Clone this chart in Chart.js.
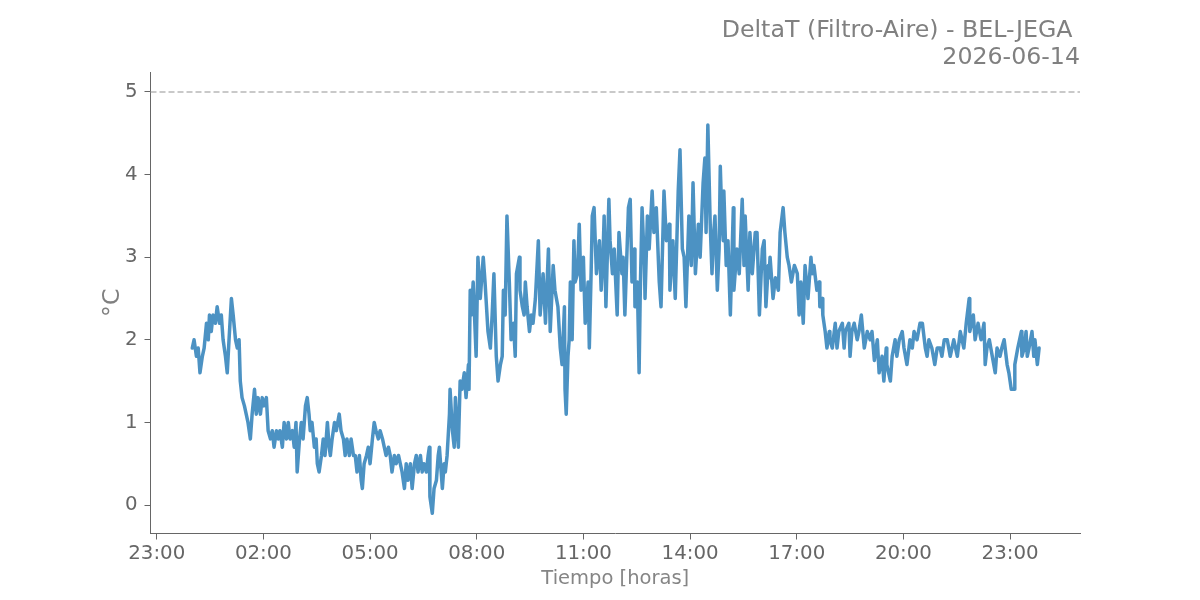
<!DOCTYPE html>
<html>
<head>
<meta charset="utf-8">
<script src="https://cdn.jsdelivr.net/npm/chart.js@4.4.1/dist/chart.umd.min.js"></script>
<style>
    html, body { margin: 0; padding: 0; background: #ffffff; }
    canvas { display: block; }
</style>
</head>
<body>
<canvas id="chart" width="1200" height="600"></canvas>
<script>
// DeltaT (Filtro-Aire) - BEL-JEGA, 2026-06-14
// Times are minutes after midnight, values in degrees C

const minutes = [
    0, 3, 7, 10, 13, 17, 20, 24, 27, 29, 32, 35, 39, 42, 46, 49, 52, 56, 59, 62,
    66, 69, 73, 76, 79, 81, 84, 88, 91, 94, 98, 101, 105, 108, 111, 115, 118, 121, 125, 128,
    132, 135, 138, 142, 145, 148, 152, 155, 159, 162, 165, 169, 172, 175, 177, 181, 184, 187, 191, 194,
    197, 199, 202, 206, 209, 211, 214, 218, 221, 224, 228, 231, 233, 236, 240, 243, 248, 251, 255, 258,
    261, 265, 268, 272, 275, 278, 282, 285, 287, 290, 294, 297, 300, 304, 307, 310, 314, 317, 321, 324,
    327, 331, 334, 337, 341, 344, 348, 351, 354, 358, 361, 364, 368, 371, 375, 378, 381, 385, 388, 391,
    395, 398, 400, 401, 405, 408, 412, 415, 417, 420, 422, 425, 427, 430, 434, 435, 439, 442, 444, 447,
    449, 452, 455, 459, 462, 466, 467, 469, 471, 474, 479, 482, 486, 491, 494, 499, 503, 506, 509, 513,
    516, 520, 523, 525, 528, 531, 535, 538, 542, 545, 547, 552, 553, 557, 560, 562, 565, 569, 572, 575,
    579, 584, 587, 592, 596, 601, 604, 609, 612, 617, 621, 624, 628, 629, 631, 634, 636, 638, 641, 644,
    646, 650, 653, 656, 660, 663, 668, 670, 673, 675, 678, 682, 687, 690, 693, 695, 698, 703, 705, 709,
    712, 717, 720, 725, 727, 730, 736, 739, 742, 746, 747, 751, 754, 756, 759, 763, 764, 768, 771, 776,
    779, 783, 788, 791, 796, 800, 805, 806, 811, 815, 820, 823, 827, 830, 833, 838, 842, 845, 849, 854,
    857, 862, 865, 867, 870, 874, 877, 879, 882, 886, 889, 891, 894, 896, 897, 901, 904, 908, 913, 914,
    919, 923, 928, 931, 933, 938, 941, 945, 950, 953, 957, 960, 962, 965, 968, 972, 973, 975, 980, 984,
    989, 992, 997, 1000, 1004, 1007, 1011, 1016, 1021, 1024, 1027, 1031, 1034, 1039, 1044, 1046, 1049, 1054, 1058, 1059,
    1063, 1064, 1068, 1071, 1075, 1076, 1080, 1085, 1088, 1091, 1097, 1100, 1102, 1108, 1110, 1113, 1117, 1122, 1125, 1129,
    1134, 1139, 1144, 1147, 1151, 1156, 1159, 1164, 1167, 1171, 1172, 1178, 1181, 1186, 1189, 1193, 1198, 1201, 1206, 1211,
    1215, 1218, 1223, 1228, 1232, 1237, 1240, 1243, 1248, 1253, 1257, 1262, 1265, 1269, 1274, 1279, 1282, 1285, 1291, 1296,
    1299, 1302, 1306, 1311, 1312, 1318, 1321, 1326, 1331, 1336, 1338, 1341, 1345, 1350, 1355, 1358, 1363, 1366, 1370, 1375,
    1378, 1382, 1387, 1388, 1393, 1399, 1400, 1404, 1407, 1409, 1412, 1417, 1420, 1422, 1426, 1429
];

const deltaT = [
    1.9, 2.0, 1.8, 1.9, 1.6, 1.8, 1.9, 2.2, 2.0, 2.3, 2.1, 2.3, 2.2, 2.4, 2.2, 2.3, 2.0, 1.8, 1.6, 2.0,
    2.5, 2.3, 2.0, 1.9, 2.0, 1.5, 1.3, 1.2, 1.1, 1.0, 0.8, 1.1, 1.4, 1.1, 1.3, 1.1, 1.3, 1.2, 1.3, 0.9,
    0.8, 0.9, 0.7, 0.9, 0.8, 0.9, 0.7, 1.0, 0.8, 1.0, 0.8, 0.9, 0.7, 1.0, 0.4, 0.8, 1.0, 0.8, 1.2, 1.3,
    1.1, 0.9, 1.0, 0.7, 0.8, 0.5, 0.4, 0.6, 0.8, 0.6, 1.0, 0.7, 0.6, 0.8, 1.0, 0.9, 1.1, 0.9, 0.8, 0.6,
    0.8, 0.6, 0.8, 0.6, 0.6, 0.4, 0.6, 0.3, 0.2, 0.5, 0.6, 0.7, 0.5, 0.8, 1.0, 0.9, 0.8, 0.9, 0.8, 0.7,
    0.6, 0.7, 0.6, 0.4, 0.6, 0.5, 0.6, 0.5, 0.4, 0.2, 0.5, 0.3, 0.5, 0.2, 0.5, 0.6, 0.4, 0.6, 0.4, 0.5,
    0.4, 0.6, 0.7, 0.1, -0.1, 0.2, 0.3, 0.6, 0.7, 0.4, 0.2, 0.5, 0.4, 0.6, 1.1, 1.4, 0.9, 0.7, 1.3, 0.9,
    0.7, 1.5, 1.4, 1.6, 1.3, 1.7, 1.4, 2.6, 2.3, 2.7, 1.8, 3.0, 2.5, 3.0, 2.7, 2.1, 1.9, 2.3, 2.8, 1.8,
    1.5, 1.7, 1.8, 2.6, 2.3, 3.5, 2.7, 2.0, 2.2, 1.8, 2.8, 3.0, 2.6, 2.4, 2.3, 2.7, 2.4, 2.1, 2.3, 2.2,
    2.5, 3.2, 2.3, 2.8, 2.2, 3.1, 2.1, 2.9, 2.6, 2.4, 1.9, 1.7, 2.4, 1.4, 1.1, 1.8, 2.0, 2.7, 2.0, 3.2,
    2.7, 2.8, 3.4, 2.6, 3.0, 2.2, 2.7, 1.9, 2.8, 3.5, 3.6, 2.8, 3.2, 2.6, 3.0, 3.5, 2.4, 3.7, 3.2, 2.8,
    3.1, 2.3, 3.3, 2.8, 3.0, 2.3, 3.6, 3.7, 2.7, 3.1, 2.4, 2.7, 1.6, 2.6, 3.6, 2.9, 2.5, 3.5, 3.1, 3.8,
    3.3, 3.6, 2.7, 2.4, 3.8, 3.2, 3.4, 2.6, 3.2, 2.5, 3.8, 4.3, 3.1, 3.0, 2.4, 3.5, 2.9, 3.9, 2.8, 3.4,
    3.0, 3.9, 4.2, 3.3, 4.6, 3.4, 2.8, 3.2, 3.5, 2.6, 3.1, 4.1, 3.4, 3.2, 3.8, 2.9, 3.2, 2.3, 3.6, 2.6,
    3.1, 2.8, 3.7, 2.9, 3.5, 2.6, 3.3, 2.8, 3.3, 3.3, 2.3, 2.8, 3.1, 3.2, 2.4, 2.9, 2.75, 3.0, 2.5, 2.75,
    2.6, 3.3, 3.6, 3.3, 3.0, 2.9, 2.7, 2.9, 2.8, 2.3, 2.7, 2.2, 2.9, 2.5, 3.0, 2.8, 2.9, 2.6, 2.7, 2.4,
    2.5, 2.3, 2.1, 1.9, 2.1, 2.0, 1.9, 2.2, 1.9, 2.1, 2.2, 1.9, 2.1, 2.2, 1.8, 2.1, 2.2, 2.0, 2.1, 2.3,
    1.9, 2.1, 2.0, 2.1, 1.75, 2.0, 1.6, 1.8, 1.5, 1.9, 1.7, 1.5, 1.8, 2.0, 1.8, 2.0, 2.1, 1.9, 1.7, 2.0,
    1.9, 2.1, 2.0, 2.2, 2.2, 1.9, 1.8, 2.0, 1.9, 1.7, 1.9, 1.9, 1.8, 2.0, 2.0, 1.8, 1.9, 2.0, 1.8, 2.1,
    2.0, 1.9, 2.2, 2.5, 2.1, 2.3, 2.0, 2.2, 2.0, 2.2, 1.7, 1.9, 2.0, 1.8, 1.6, 1.9, 1.8, 1.9, 2.0, 1.7,
    1.6, 1.4, 1.4, 1.7, 1.9, 2.1, 1.8, 1.9, 2.1, 1.8, 1.9, 2.1, 1.8, 2.0, 1.7, 1.9
];

// Axis ticks (minutes after midnight; 23:00 of the previous day is -60)
const xTicks = [-60, 120, 300, 480, 660, 840, 1020, 1200, 1380];
const yTicks = [0, 1, 2, 3, 4, 5];
const limitValue = 5;

const titleLines = ['DeltaT (Filtro-Aire) - BEL-JEGA ', '2026-06-14'];
const xLabel = 'Tiempo [horas]';
const yLabel = '°C';

Chart.defaults.font.family = '"DejaVu Sans", sans-serif';

// Format minutes as HH:MM
function toClock(value) {
    const h = ((Math.floor(value / 60) % 24) + 24) % 24;
    const m = ((value % 60) + 60) % 60;
    return String(h).padStart(2, '0') + ':' + String(m).padStart(2, '0');
}

// Titles and axis labels drawn outside the plot area
const textPlugin = {
    id: 'texts',
    afterDraw(chart) {
        const ctx = chart.ctx;
        const area = chart.chartArea;
        ctx.save();
        ctx.fillStyle = '#808080';
        ctx.font = '23.7px "DejaVu Sans"';
        ctx.textAlign = 'right';
        ctx.textBaseline = 'alphabetic';
        ctx.fillText(titleLines[0], area.right, 37);
        ctx.fillText(titleLines[1], area.right, 64);

        ctx.fillStyle = '#858585';
        ctx.font = '19.5px "DejaVu Sans"';
        ctx.textAlign = 'center';
        ctx.fillText(xLabel, (area.left + area.right) / 2, 584);

        ctx.translate(119, (area.top + area.bottom) / 2);
        ctx.rotate(-Math.PI / 2);
        ctx.font = '23.7px "DejaVu Sans"';
        ctx.fillStyle = '#808080';
        ctx.fillText(yLabel, 0, 0);
        ctx.restore();
    }
};

const points = minutes.map((m, i) => ({ x: m, y: deltaT[i] }));
const xMin = -70.5;
const xMax = 1498;

new Chart(document.getElementById('chart').getContext('2d'), {
    type: 'line',
    data: {
        datasets: [
            {
                data: points,
                borderColor: 'rgba(31, 119, 180, 0.8)',
                borderWidth: 3.5,
                pointRadius: 0,
                tension: 0,
                borderJoinStyle: 'round',
                borderCapStyle: 'round'
            },
            {
                data: [{ x: xMin, y: limitValue }, { x: xMax, y: limitValue }],
                borderColor: '#b8b8b8',
                borderWidth: 1.5,
                borderDash: [6, 3],
                pointRadius: 0
            }
        ]
    },
    options: {
        responsive: false,
        animation: false,
        layout: {
            padding: { left: 0, right: 120, top: 72, bottom: 0 }
        },
        plugins: {
            legend: { display: false },
            tooltip: { enabled: false }
        },
        scales: {
            x: {
                type: 'linear',
                min: xMin,
                max: xMax,
                afterBuildTicks(scale) {
                    scale.ticks = xTicks.map(v => ({ value: v }));
                },
                afterFit(scale) {
                    scale.height = 66.5;
                },
                grid: {
                    drawOnChartArea: false,
                    drawTicks: true,
                    tickLength: 6,
                    tickColor: '#666666'
                },
                border: { color: '#666666', width: 1 },
                ticks: {
                    color: '#666666',
                    font: { size: 19.8 },
                    padding: 2,
                    maxRotation: 0,
                    autoSkip: false,
                    callback: value => toClock(value)
                }
            },
            y: {
                min: -0.345,
                max: 5.242,
                afterBuildTicks(scale) {
                    scale.ticks = yTicks.map(v => ({ value: v }));
                },
                afterFit(scale) {
                    scale.width = 150.5;
                },
                grid: {
                    drawOnChartArea: false,
                    drawTicks: true,
                    tickLength: 6,
                    tickColor: '#666666'
                },
                border: { color: '#666666', width: 1 },
                ticks: {
                    color: '#666666',
                    font: { size: 19.8 },
                    padding: 7,
                    autoSkip: false
                }
            }
        }
    },
    plugins: [textPlugin]
});
</script>
</body>
</html>
